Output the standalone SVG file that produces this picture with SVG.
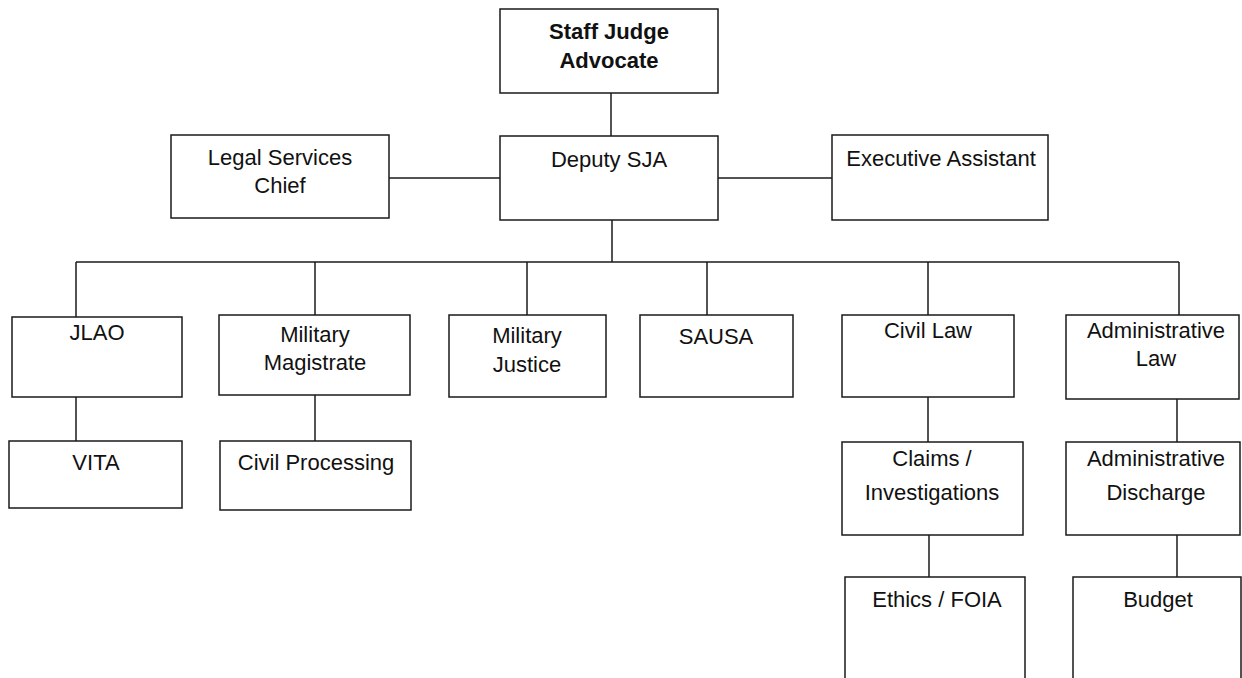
<svg xmlns="http://www.w3.org/2000/svg" width="1242" height="678" viewBox="0 0 1242 678">
<style>
.box{fill:#fff;stroke:#1a1a1a;stroke-width:1.5}
.open{fill:none;stroke:#1a1a1a;stroke-width:1.5}
.t{font-family:"Liberation Sans",Arial,sans-serif;font-size:22px;fill:#111;text-anchor:middle}
.b{font-weight:bold}
#connectors line{stroke:#1a1a1a;stroke-width:1.5}
</style>
<rect width="1242" height="678" fill="#fff"/>
<g id="connectors">
<line x1="611" y1="93" x2="611" y2="136"/>
<line x1="389" y1="178" x2="500" y2="178"/>
<line x1="718" y1="178" x2="832" y2="178"/>
<line x1="612" y1="220" x2="612" y2="262"/>
<line x1="76" y1="262" x2="1179" y2="262"/>
<line x1="76" y1="262" x2="76" y2="317"/>
<line x1="315" y1="262" x2="315" y2="315"/>
<line x1="527" y1="262" x2="527" y2="315"/>
<line x1="707" y1="262" x2="707" y2="315"/>
<line x1="928" y1="262" x2="928" y2="315"/>
<line x1="1179" y1="262" x2="1179" y2="315"/>
<line x1="76" y1="397" x2="76" y2="441"/>
<line x1="315" y1="395" x2="315" y2="441"/>
<line x1="928" y1="397" x2="928" y2="442"/>
<line x1="1177" y1="399" x2="1177" y2="442"/>
<line x1="929" y1="535" x2="929" y2="577"/>
<line x1="1177" y1="535" x2="1177" y2="577"/>
</g>
<g id="sja">
<rect class="box" x="500" y="9" width="218" height="84"/>
<text class="t b" x="609" y="39">Staff Judge</text>
<text class="t b" x="609" y="68">Advocate</text>
</g>
<g id="deputy">
<rect class="box" x="500" y="136" width="218" height="84"/>
<text class="t" x="609" y="167">Deputy SJA</text>
</g>
<g id="legal">
<rect class="box" x="171" y="135" width="218" height="83"/>
<text class="t" x="280" y="165">Legal Services</text>
<text class="t" x="280" y="193">Chief</text>
</g>
<g id="exec">
<rect class="box" x="832" y="135" width="216" height="85"/>
<text class="t" x="941" y="166" font-size="21">Executive Assistant</text>
</g>
<g id="jlao">
<rect class="box" x="12" y="317" width="170" height="80"/>
<text class="t" x="97" y="340">JLAO</text>
</g>
<g id="magistrate">
<rect class="box" x="219" y="315" width="191" height="80"/>
<text class="t" x="315" y="342">Military</text>
<text class="t" x="315" y="370">Magistrate</text>
</g>
<g id="justice">
<rect class="box" x="449" y="315" width="157" height="82"/>
<text class="t" x="527" y="343">Military</text>
<text class="t" x="527" y="372">Justice</text>
</g>
<g id="sausa">
<rect class="box" x="640" y="315" width="153" height="82"/>
<text class="t" x="716" y="344">SAUSA</text>
</g>
<g id="civil">
<rect class="box" x="842" y="315" width="172" height="82"/>
<text class="t" x="928" y="338">Civil Law</text>
</g>
<g id="adminlaw">
<rect class="box" x="1066" y="315" width="173" height="84"/>
<text class="t" x="1156" y="338">Administrative</text>
<text class="t" x="1156" y="366">Law</text>
</g>
<g id="vita">
<rect class="box" x="9" y="441" width="173" height="67"/>
<text class="t" x="96" y="470">VITA</text>
</g>
<g id="civilproc">
<rect class="box" x="220" y="441" width="191" height="69"/>
<text class="t" x="316" y="470">Civil Processing</text>
</g>
<g id="claims">
<rect class="box" x="842" y="442" width="181" height="93"/>
<text class="t" x="932" y="466">Claims /</text>
<text class="t" x="932" y="500">Investigations</text>
</g>
<g id="discharge">
<rect class="box" x="1066" y="442" width="174" height="93"/>
<text class="t" x="1156" y="466">Administrative</text>
<text class="t" x="1156" y="500">Discharge</text>
</g>
<g id="ethics">
<path class="open" d="M845 678 V577 H1025 V678"/>
<text class="t" x="937" y="607">Ethics / FOIA</text>
</g>
<g id="budget">
<path class="open" d="M1073 678 V577 H1241 V678"/>
<text class="t" x="1158" y="607">Budget</text>
</g>
</svg>
